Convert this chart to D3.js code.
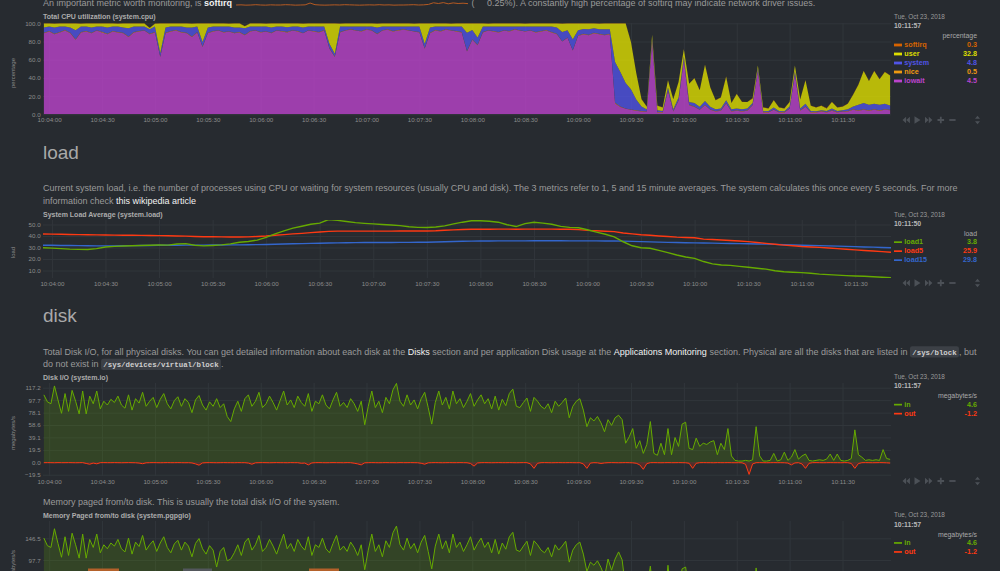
<!DOCTYPE html>
<html>
<head>
<meta charset="utf-8">
<script src="https://cdn.jsdelivr.net/npm/d3@7"></script>
<style>
  html, body { margin: 0; padding: 0; background: #272b30; overflow: hidden; }
  svg { display: block; font-family: "Liberation Sans", Arial, Helvetica, sans-serif; }
  svg text { white-space: pre; }
</style>
</head>
<body>
<svg id="page" width="1000" height="571"></svg>
<script>
// ---- data ----
const timeTicks = ["10:04:00","10:04:30","10:05:00","10:05:30","10:06:00","10:06:30","10:07:00","10:07:30",
  "10:08:00","10:08:30","10:09:00","10:09:30","10:10:00","10:10:30","10:11:00","10:11:30"];

// system.cpu, one sample every 3 s from 10:03:57
const cpuIowait = [89,91,88,90,92,89,82,90,91,89, 92,90,88,91,90,89,85,90,91,92, 88,90,63,89,91,92,90,89,85,90,
  74,89,91,92,90,91,89,90,87,91, 92,90,91,89,92,91,90,92,91,89, 92,91,90,92,72,63,90,92,93,92,
  91,93,92,88,92,93,91,92,93,92, 91,90,72,89,92,91,93,92,91,90, 69,82,76,90,92,91,90,92,91,93,
  92,91,92,90,91,92,90,88,80,84, 70,86,88,87,89,88,87,88,
  12,8,6,5,4,3,3,80,2,2, 26,3,15,60,10,8,5,10,5,3, 4,12,3,4,3,4,10,48,2,2, 5,2,2,6,44,4,8,2,2,3,
  2,4,2,3,3,5,4,5,4,5, 4,5,4.5];
const cpuSystem = [6,5,7,6,4,6,10,6,5,6, 4,6,7,5,6,6,9,6,5,4, 5,6,4,6,5,4,6,6,10,6, 5,6,5,4,6,5,6,5,7,5,
  4,6,5,6,4,5,5,4,5,6, 4,5,6,4,5,3,6,4,3,4, 5,3,4,7,4,3,5,4,3,4, 5,6,5,6,4,5,3,4,5,6,
  20,10,8,6,4,5,6,4,5,3, 4,5,4,6,5,4,6,7,10,8, 12,6,5,6,5,5,6,5,
  45,38,28,22,12,5,2,2,2,1, 3,2,3,3,3,4,3,4,3,2, 2,3,2,2,2,2,2,2,1,1, 2,1,1,2,3,2,3,1,1,1,
  1,2,1,1,2,3,6,7,6,6, 6,6,4.8];
const cpuUser = [4.2,3.2,4.2,3.2,3.2,4.2,7.2,3.2,3.2,4.2, 3.2,3.2,4.2,3.2,3.2,4.2,5.2,3.2,3.2,3.2,
  1.2,3.2,32.2,4.2,3.2,3.2,3.2,4.2,4.2,3.2, 20.2,4.2,3.2,3.2,3.2,3.2,4.2,4.2,2.2,3.2,
  3.2,3.2,3.2,4.2,3.2,3.2,4.2,3.2,3.2,4.2, 3.2,3.2,3.2,3.2,22.2,33.2,3.2,3.2,3.2,3.2,
  3.2,3.2,3.2,4.2,3.2,3.2,3.2,3.2,3.2,3.2, 3.2,3.2,22.2,4.2,3.2,3.2,3.2,3.2,3.2,3.2,
  10.2,7.2,15.2,3.2,3.2,3.2,3.2,3.2,3.2,3.2, 3.2,3.2,3.2,3.2,3.2,3.2,3.2,4.2,9.2,7.2,
  17.2,7.2,6.2,6.2,5.2,6.2,6.2,6.2,
  42.2,53.2,65.2,52,29,8,3,5,5,4, 8,11,17,8,20,27,18,40,21,10, 12,26,7,16,8,7,5,3,4,3,
  8,4,3,5,6,10,26,6,4,5, 3,7,4,4,6,13,22,35,26,36, 28,35,32.8];
const cpuNice = [0.5,0.5,0.4,0.5,0.6,0.5,0.5,0.4,0.5,0.5, 0.5,0.6,0.5,0.5,0.4,0.5,0.5,0.5,0.6,0.5,
  0.5,0.4,0.5,0.5,0.5,0.6,0.5,0.5,0.4,0.5, 0.5,0.5,0.6,0.5,0.5,0.4,0.5,0.5,0.5,0.6,
  0.5,0.5,0.4,0.5,0.5,0.5,0.6,0.5,0.5,0.4, 0.5,0.5,0.5,0.6,0.5,0.5,0.4,0.5,0.5,0.5,
  0.6,0.5,0.5,0.4,0.5,0.5,0.5,0.6,0.5,0.5, 0.4,0.5,0.5,0.5,0.6,0.5,0.5,0.4,0.5,0.5,
  0.5,0.6,0.5,0.5,0.4,0.5,0.5,0.5,0.6,0.5, 0.5,0.4,0.5,0.5,0.5,0.6,0.5,0.5,0.4,0.5,
  0.5,0.5,0.6,0.5,0.5,0.4,0.5,0.5,0.6,0.5, 0.5,0.4,0.4,0.5,0.4,0.5,0.4,0.5,0.4,0.5,
  0.5,0.4,0.5,0.5,0.4,0.5,0.4,0.5,0.5,0.4, 0.5,0.4,0.5,0.4,0.5,0.5,0.4,0.5,0.4,0.5,
  0.4,0.5,0.5,0.4,0.5,0.5,0.4,0.5,0.5,0.5, 0.5,0.4,0.5,0.5,0.5,0.5,0.5,0.5,0.5,0.5, 0.5];
const cpuSoftirq = [0.3,0.3,0.2,0.3,0.4,0.3,0.3,0.2,0.3,0.3, 0.3,0.4,0.3,0.3,0.2,0.3,0.3,0.3,0.4,0.3,
  0.3,0.2,0.3,0.3,0.3,0.4,0.3,0.3,0.2,0.3, 0.3,0.3,0.4,0.3,0.3,0.2,0.3,0.3,0.3,0.4,
  0.3,0.3,0.2,0.3,0.3,0.3,0.4,0.3,0.3,0.2, 0.3,0.3,0.3,0.4,0.3,0.3,0.2,0.3,0.3,0.3,
  0.4,0.3,0.3,0.2,0.3,0.3,0.3,0.4,0.3,0.3, 0.2,0.3,0.3,0.3,0.4,0.3,0.3,0.2,0.3,0.3,
  0.3,0.4,0.3,0.3,0.2,0.3,0.3,0.3,0.4,0.3, 0.3,0.2,0.3,0.3,0.3,0.4,0.3,0.3,0.2,0.3,
  0.3,0.3,0.4,0.3,0.3,0.2,0.3,0.3,0.5,0.4, 0.3,0.3,0.2,0.2,0.3,0.2,0.3,0.2,0.3,0.2,
  0.3,0.3,0.2,0.3,0.3,0.2,0.3,0.2,0.3,0.3, 0.2,0.3,0.2,0.2,0.3,0.2,0.3,0.2,0.2,0.3,
  0.2,0.3,0.2,0.2,0.3,0.2,0.3,0.2,0.3,0.3, 0.2,0.3,0.3,0.2,0.3,0.3,0.3,0.3,0.3,0.3, 0.3];
const cpuNames = ["softirq","user","system","nice","iowait"];
const cpuLegendValues = ["0.3","32.8","4.8","0.5","4.5"];

// system.load, one sample every 5 s from 10:03:55
const load1 = [29.8,29.5,29.0,28.6,28.4,28.3,29.0,30.4,31.0,31.3, 31.5,31.8,32.0,32.2,32.1,33.0,33.4,32.0,31.4,31.8,
  32.3,33.2,34.6,35.2,36.4,38.8,41.8,44.5,46.8,48.5, 50.2,51.2,54.3,53.6,52.6,51.6,51.0,50.5,50.0,49.5,
  49.0,48.0,47.5,47.4,47.8,48.8,50.5,52.0,53.2,53.3, 52.8,52.0,49.8,48.2,50.8,51.9,51.2,50.2,48.4,47.5,
  47.2,45.4,43.4,41.5,39.2,35.0,31.5,29.8,29.3,27.5, 25.5,23.5,21.8,20.6,17.8,15.8,14.8,14.5,13.6,12.8,
  12.0,11.2,9.8,8.9,8.5,8.2,7.6,6.9,6.4,6.0, 5.6,5.3,5.0,4.6,4.2,3.8];
const load5 = [41.7,41.6,41.5,41.3,41.2,41.1,41.0,40.9,40.8,40.7, 40.6,40.5,40.4,40.3,40.2,40.0,39.9,39.6,39.4,39.3,
  39.2,39.1,39.1,39.2,39.6,40.0,40.6,41.2,41.8,42.3, 42.9,43.5,44.0,44.2,44.2,44.2,44.2,44.2,44.2,44.2,
  44.3,44.3,44.3,44.4,44.6,45.0,45.3,45.6,45.8,45.8, 45.9,46.0,46.0,45.9,46.0,46.0,46.0,46.0,45.9,45.8,
  45.5,44.9,44.5,44.1,43.8,42.6,41.8,41.1,40.6,40.0, 39.5,39.0,38.7,38.5,37.3,36.9,36.5,36.1,35.6,35.1,
  34.4,33.6,32.8,32.1,31.5,30.9,30.5,30.1,29.6,29.0, 28.5,27.9,27.4,26.9,26.4,25.9];
const load15 = [32.0,31.9,31.8,31.7,31.6,31.5,31.4,31.4,31.4,31.5, 31.6,31.7,31.8,31.9,32.0,32.0,32.1,32.1,32.1,32.2,
  32.2,32.3,32.3,32.4,32.5,32.6,32.8,33.0,33.2,33.4, 33.6,33.7,33.9,34.0,34.1,34.2,34.3,34.3,34.4,34.4,
  34.5,34.5,34.6,34.6,34.8,35.0,35.2,35.4,35.5,35.6, 35.7,35.8,35.8,35.8,35.8,35.9,35.9,35.9,35.9,35.8,
  35.8,35.8,35.8,35.7,35.7,35.5,35.3,35.1,34.9,34.7, 34.5,34.3,34.1,34.0,33.9,33.8,33.6,33.5,33.4,33.2,
  33.1,32.9,32.7,32.4,32.2,32.0,31.8,31.6,31.4,31.2, 31.0,30.8,30.5,30.3,30.0,29.8];
const loadNames = ["load1","load5","load15"];
const loadLegendValues = ["3.8","25.9","29.8"];

// system.io, one sample every 2 s from 10:03:57
const diskIn = [106,95,92,120,98,77,108,80,113,96, 76,112,76,104,92,112,84,96,90,99, 94,104,90,85,106,82,100,93,110,88,
  96,102,86,99,108,92,84,97,103,88, 100,94,78,98,105,90,82,95,88,100, 86,92,72,64,84,96,80,100,106,88,
  96,110,86,92,104,94,82,97,112,90, 98,86,104,94,88,108,80,96,92,106, 90,84,98,110,88,94,86,100,92,80,
  96,59,88,112,86,96,78,102,92,114, 124,96,88,106,90,98,84,100,110,86, 60,94,112,90,102,84,112,92,100,86,
  96,108,88,98,106,92,100,84,104,82, 99,89,108,115,88,86,94,101,80,102, 96,88,84,92,78,96,88,94,101,70,
  88,96,100,82,56,70,65,72,62,48, 67,58,70,74,67,30,40,53,22,34, 14,28,64,14,11,30,12,53,12,39,
  25,60,63,22,20,38,25,30,28,32, 34,12,30,20,53,10,3,2,2,3, 2,4,56,10,2,2,3,14,2,4,
  16,3,8,20,5,10,13,3,2,3, 4,3,5,13,3,13,3,2,3,6, 51,12,8,3,4,3,4,3,20,6, 4.6];
const diskOut = [-0.6,-0.5,-0.6,-0.7,-0.5,-0.6,-0.6,-0.5,-0.6,-0.7, -0.6,-0.5,-1.8,-3.0,-1.2,-2.4,-0.6,-0.5,-0.6,-0.6,
  -0.5,-0.6,-0.7,-0.6,-0.5,-0.6,-0.7,-1.2,-2.2,-0.8, -0.6,-0.5,-0.6,-0.7,-0.6,-0.5,-0.6,-0.6,-0.5,-0.6,
  -0.7,-0.6,-1.0,-2.5,-4.5,-1.0,-0.6,-0.5,-0.6,-0.7, -0.6,-0.5,-0.6,-0.6,-0.7,-0.5,-0.6,-0.6,-1.2,-3.0,
  -0.8,-0.6,-0.5,-0.6,-0.7,-0.6,-0.5,-0.6,-0.6,-0.7, -0.5,-0.6,-0.6,-1.5,-1.2,-4.0,-1.0,-0.6,-0.5,-0.6,
  -0.7,-0.6,-0.5,-0.6,-0.6,-0.7,-0.5,-0.6,-1.4,-2.5, -4.0,-0.8,-0.6,-0.5,-0.6,-0.7,-0.6,-0.5,-0.6,-0.6,
  -0.7,-0.5,-0.6,-0.6,-0.5,-0.6,-0.7,-1.5,-3.0,-0.8, -0.6,-0.5,-0.6,-0.7,-0.6,-0.5,-0.6,-0.6,-0.5,-0.6,
  -0.7,-1.8,-6.0,-1.0,-0.6,-0.5,-0.6,-0.7,-0.6,-0.5, -0.6,-0.6,-0.5,-0.6,-0.7,-0.6,-0.5,-0.6,-2.5,-9.5,
  -1.5,-0.6,-0.5,-0.6,-0.7,-0.6,-0.5,-0.6,-0.6,-0.5, -0.6,-0.7,-0.6,-2.5,-9.5,-1.2,-0.6,-0.8,-1.8,-1.0,
  -0.6,-0.5,-0.6,-0.7,-0.6,-0.5,-0.6,-0.8,-1.5,-4.0, -11.0,-2.0,-0.6,-0.5,-0.6,-0.7,-0.6,-0.5,-0.6,-0.6,
  -0.5,-0.6,-0.7,-1.5,-9.5,-1.5,-0.6,-0.5,-0.6,-0.6, -0.7,-0.5,-0.6,-0.6,-0.5,-0.6,-0.7,-0.6,-0.8,-3.0,
  -19.0,-2.5,-0.6,-0.5,-0.6,-0.7,-0.6,-0.5,-0.6,-0.6, -0.7,-1.2,-4.0,-1.0,-0.6,-2.5,-9.5,-1.5,-0.6,-0.5,
  -0.6,-0.7,-0.6,-0.5,-0.6,-0.6,-0.7,-0.5,-0.6,-1.8, -9.5,-2.0,-0.6,-0.5,-0.6,-0.7,-0.6,-0.5,-0.6,-0.8, -1.2];
const diskNames = ["in","out"];
const diskLegendValues = ["4.6","-1.2"];

// system.pgpgio "in", one sample every 2 s from 10:03:57 (only the top of this chart is on screen)
const pgpgIn = [147,130,126,168,135,104,150,108,158,132, 102,156,102,144,126,156,114,132,123,136,
  129,144,123,116,147,111,138,128,153,120, 132,141,117,136,150,126,114,134,142,120,
  138,129,105,135,146,123,111,130,120,82, 117,126,96,100,114,132,108,138,147,120,
  132,153,117,126,144,129,111,134,156,123, 135,117,144,129,120,150,108,132,126,147,
  123,114,135,153,120,129,117,138,126,108, 132,76,120,156,117,132,105,141,126,159,
  174,132,120,147,123,135,114,138,153,117, 78,129,156,123,141,114,156,126,138,117,
  132,150,120,135,147,126,138,114,144,111, 136,122,150,160,120,117,129,140,108,141,
  132,120,114,126,105,132,120,129,140,93, 120,132,138,111,72,93,86,96,81,60,
  100,75,100,116,98,33,48,68,21,39, 9,30,84,9,5,33,6,86,6,46, 26,78,82,21,18,45,26,33,30,36,
  39,6,33,18,68,3,2,2,2,3, 2,4,80,3,2,2,3,9,2,4, 12,3,4,18,4,3,8,3,2,3,
  4,3,4,8,3,8,3,2,3,4, 65,6,4,3,4,3,4,3,18,4, 4.6];
const pgpgLegendValues = ["4.6","-1.2"];

// inline softirq sparkline in the text at the top
const softirqSpark = [0.2,0.21,0.19,0.2,0.22,0.2,0.19,0.21,0.2,0.2,0.22,0.21,0.19,0.2,0.21,0.33,0.22,0.2,0.19,0.2,
  0.21,0.2,0.22,0.21,0.2,0.19,0.2,0.21,0.2,0.22,0.2,0.21,0.19,0.2,0.2,0.21,0.22,0.2,0.21,0.24,
  0.35,0.3,0.36,0.28,0.34,0.3,0.32,0.29];

// ---- page ----
const svg = d3.select("#page");
svg.append("rect").attr("width", 1000).attr("height", 571).attr("fill", "#272b30");
const defs = svg.append("defs");

const parseT = d3.timeParse("%H:%M:%S");
const fmtT = d3.timeFormat("%H:%M:%S");
const from = (s, ms) => new Date(+parseT(s) + (ms || 0));
const left = 43, right = 891;

const xMain = d3.scaleTime([from("10:03:56", 500), from("10:11:57", 500)], [left, right]);
const xLoad = d3.scaleTime([from("10:03:55"), from("10:11:50")], [left, right]);

const cpuTimes = cpuUser.map((_, i) => from("10:03:57", i * 3000));
const diskTimes = diskIn.map((_, i) => from("10:03:57", i * 2000));
const loadTimes = load1.map((_, i) => from("10:03:55", i * 5000));

const FONT = "Liberation Sans, Arial, Helvetica, sans-serif";
const BODY = 9.0;
const colors = {
  softirq: "#D66300", user: "#DDDD00", system: "#5054e6", nice: "#EE9911", iowait: "#BB44CC",
  load1: "#66AA00", load5: "#FE3912", load15: "#3366CC", in: "#66AA00", out: "#FE3912"
};

function txt(x, y, s, o = {}) {
  return svg.append("text").attr("x", x).attr("y", y)
    .attr("font-family", o.family || FONT).attr("font-size", o.size || BODY)
    .attr("font-weight", o.bold ? "bold" : null).attr("fill", o.fill || "#9a9a9a")
    .attr("text-anchor", o.anchor || null).text(s);
}

// run of text pieces laid out one after another
function flow(x, y, segs) {
  let cx = x;
  segs.forEach(s => {
    if (s.code) {
      const t = txt(cx + 2.3, y, s.t, { family: "Liberation Mono, DejaVu Sans Mono, monospace", size: 7.4, bold: true, fill: "#cfcfcf" });
      const w = t.node().getComputedTextLength();
      svg.insert("rect", () => t.node()).attr("x", cx).attr("y", y - 8.5).attr("width", w + 4.6)
        .attr("height", 11.2).attr("rx", 2.2).attr("fill", "#3c4046");
      cx += w + 4.6;
    } else {
      const t = txt(cx, y, s.t, { bold: s.b, fill: s.w ? "#f2f2f2" : "#9a9a9a" });
      cx += t.node().getComputedTextLength();
    }
  });
  return cx;
}

function frame(c) {
  const id = "clip" + c.name;
  defs.append("clipPath").attr("id", id).append("rect")
    .attr("x", left).attr("y", c.top).attr("width", right - left).attr("height", c.bottom - c.top);

  const gx = svg.append("g").attr("transform", `translate(0,${c.bottom})`)
    .call(d3.axisBottom(c.x).tickValues(timeTicks.map(parseT)).tickFormat(fmtT)
      .tickSizeInner(-(c.bottom - c.top)).tickSizeOuter(0).tickPadding(3.6));
  const gy = svg.append("g").attr("transform", `translate(${left},0)`)
    .call(d3.axisLeft(c.y).tickValues(c.yTicks).tickFormat(d3.format(".1f"))
      .tickSizeInner(-(right - left)).tickSizeOuter(0).tickPadding(2.4));
  [gx, gy].forEach(g => {
    g.attr("font-size", 6.2).attr("font-family", FONT);
    g.select(".domain").remove();
    g.selectAll("line").attr("stroke", "#31363b");
    g.selectAll("text").attr("fill", "#8c8c8c");
  });

  txt(left, c.titleY, c.title, { size: 7, bold: true, fill: "#acacac" });
  svg.append("text").attr("transform", `translate(14.5,${c.unitY}) rotate(-90)`)
    .attr("text-anchor", "middle").attr("font-family", FONT).attr("font-size", 6)
    .attr("fill", "#8a8a8a").text(c.unitLabel);

  return svg.append("g").attr("clip-path", `url(#${id})`);
}

function legend(l) {
  const x = 894, vx = 977;
  txt(x, l.y0, "Tue, Oct 23, 2018", { size: 6.4, fill: "#9a9a9a" });
  txt(x, l.y0 + 9.3, l.time, { size: 6.9, bold: true, fill: "#b8b8b8" });
  txt(vx, l.y0 + 19.3, l.unit, { size: 6.9, fill: "#a8a8a8", anchor: "end" });
  l.names.forEach((n, i) => {
    const y = l.y0 + 27.8 + i * 9;
    svg.append("rect").attr("x", x).attr("y", y - (l.bar ? 3.2 : 3)).attr("width", 8)
      .attr("height", l.bar ? 2.8 : 1.7).attr("fill", colors[n]);
    txt(x + 10.3, y, n, { size: 7.2, bold: true, fill: colors[n] });
    txt(vx, y, l.values[i], { size: 7.2, bold: true, fill: colors[n], anchor: "end" });
  });
}

function nav(cy) {
  const g = svg.append("g").attr("fill", "#4c5157");
  g.append("path").attr("d", `M902.5,${cy}l3.6,-3.3v6.6z M906.3,${cy}l3.6,-3.3v6.6z`);
  g.append("path").attr("d", `M914.5,${cy - 3.8}l6,3.8l-6,3.8z`);
  g.append("path").attr("d", `M925,${cy - 3.3}l3.6,3.3l-3.6,3.3z M928.8,${cy - 3.3}l3.6,3.3l-3.6,3.3z`);
  g.append("path").attr("d", `M937.5,${cy - 0.9}h6.6v1.8h-6.6z M939.9,${cy - 3.3}h1.8v6.6h-1.8z`);
  g.append("path").attr("d", `M949.3,${cy - 0.9}h6.3v1.8h-6.3z`);
  g.append("path").attr("d", `M975,${cy - 1.3}l2.5,-3l2.5,3z M975,${cy + 1.3}l2.5,3l2.5,-3z`);
}

// ---- top text line (cut off by the window) ----
let cx = flow(left, 5.5, [{ t: "An important metric worth monitoring, is " }, { t: "softirq", b: true, w: true }]);
const sx = d3.scaleLinear([0, softirqSpark.length - 1], [cx + 4, 468]);
const sy = d3.scaleLinear([0, 0.6], [8, -1]);
svg.append("path").datum(softirqSpark).attr("fill", "none").attr("stroke", "#b55a22").attr("stroke-width", 1)
  .attr("d", d3.line().x((d, i) => sx(i)).y(d => sy(d)));
txt(471.5, 5.5, "(");
txt(487, 5.5, "0.25%). A constantly high percentage of softirq may indicate network driver issues.");

// ---- CPU ----
const yCpu = d3.scaleLinear([0, 100], [114.3, 23.3]);
const cpuPlot = frame({ name: "cpu", x: xMain, y: yCpu, top: 23, bottom: 114.3, yTicks: [0, 20, 40, 60, 80, 100],
  title: "Total CPU utilization (system.cpu)", titleY: 18.5, unitLabel: "percentage", unitY: 73 });
const cpuRows = cpuTimes.map((t, i) => ({ time: t, iowait: cpuIowait[i], nice: cpuNice[i],
  system: cpuSystem[i], user: cpuUser[i], softirq: cpuSoftirq[i] }));
const cpuStack = d3.stack().keys(["iowait", "nice", "system", "user", "softirq"])(cpuRows);
const cpuArea = d3.area().x(d => xMain(d.data.time))
  .y0(d => yCpu(Math.min(100, d[0]))).y1(d => yCpu(Math.min(100, d[1])));
cpuPlot.selectAll("path").data(cpuStack).join("path")
  .attr("fill", d => colors[d.key]).attr("fill-opacity", 0.8).attr("d", cpuArea);
legend({ y0: 19, time: "10:11:57", unit: "percentage", names: cpuNames, values: cpuLegendValues, bar: true });
nav(120);

// ---- load ----
txt(left, 159, "load", { size: 19, fill: "#a9a9a9" });
flow(left, 191.3, [{ t: "Current system load, i.e. the number of processes using CPU or waiting for system resources (usually CPU and disk). The 3 metrics refer to 1, 5 and 15 minute averages. The system calculates this once every 5 seconds. For more" }]);
flow(left, 204, [{ t: "information check " }, { t: "this wikipedia article", w: true }]);
const yLoad = d3.scaleLinear([3.5, 53.9], [278, 220]);
const loadPlot = frame({ name: "load", x: xLoad, y: yLoad, top: 220, bottom: 278, yTicks: [10, 20, 30, 40, 50],
  title: "System Load Average (system.load)", titleY: 216.8, unitLabel: "load", unitY: 252.5 });
[["load15", load15], ["load5", load5], ["load1", load1]].forEach(([k, vals]) => {
  loadPlot.append("path").datum(vals).attr("fill", "none").attr("stroke", colors[k]).attr("stroke-width", 1.4)
    .attr("d", d3.line().x((d, i) => xLoad(loadTimes[i])).y(d => yLoad(d)));
});
legend({ y0: 216.5, time: "10:11:50", unit: "load", names: loadNames, values: loadLegendValues });
nav(283);

// ---- disk ----
txt(left, 321.7, "disk", { size: 19, fill: "#a9a9a9" });
flow(left, 354.7, [{ t: "Total Disk I/O, for all physical disks. You can get detailed information about each disk at the " },
  { t: "Disks", w: true }, { t: " section and per application Disk usage at the " },
  { t: "Applications Monitoring", w: true }, { t: " section. Physical are all the disks that are listed in " },
  { t: "/sys/block", code: true }, { t: ", but" }]);
flow(left, 367.3, [{ t: "do not exist in " }, { t: "/sys/devices/virtual/block", code: true }, { t: "." }]);

function ioChart(c, inVals, outVals) {
  const plot = frame(c);
  const series = [["in", inVals]];
  if (outVals) series.push(["out", outVals]);
  series.forEach(([k, vals]) => {
    plot.append("path").datum(vals).attr("fill", colors[k]).attr("fill-opacity", 0.2)
      .attr("d", d3.area().x((d, i) => c.x(diskTimes[i])).y0(c.y(0)).y1(d => c.y(d)));
    plot.append("path").datum(vals).attr("fill", "none").attr("stroke", colors[k]).attr("stroke-width", 1)
      .attr("d", d3.line().x((d, i) => c.x(diskTimes[i])).y(d => c.y(d)));
  });
}
const yDisk = d3.scaleLinear([-21.5, 124.6], [476, 383]);
ioChart({ name: "disk", x: xMain, y: yDisk, top: 383, bottom: 476,
  yTicks: [-19.5, 0, 19.5, 39.1, 58.6, 78.1, 97.7, 117.2],
  title: "Disk I/O (system.io)", titleY: 379.5, unitLabel: "megabytes/s", unitY: 433 }, diskIn, diskOut);
legend({ y0: 379, time: "10:11:57", unit: "megabytes/s", names: diskNames, values: diskLegendValues });
nav(481);

// ---- memory paged ----
txt(left, 505.3, "Memory paged from/to disk. This is usually the total disk I/O of the system.");
const yPg = d3.scaleLinear([-23.5, 185.4], [614, 521]);
ioChart({ name: "pg", x: xMain, y: yPg, top: 521, bottom: 614, yTicks: [0, 48.8, 97.7, 146.5],
  title: "Memory Paged from/to disk (system.pgpgio)", titleY: 517.8, unitLabel: "megabytes/s", unitY: 567 }, pgpgIn, null);
legend({ y0: 517.3, time: "10:11:57", unit: "megabytes/s", names: diskNames, values: pgpgLegendValues });

// strips peeking in at the bottom edge
svg.append("rect").attr("x", 88).attr("y", 568.5).attr("width", 31).attr("height", 3).attr("fill", "#b4612a");
svg.append("rect").attr("x", 183).attr("y", 568.5).attr("width", 29).attr("height", 3).attr("fill", "#53575c");
svg.append("rect").attr("x", 309).attr("y", 568.5).attr("width", 30).attr("height", 3).attr("fill", "#b4612a");
</script>
</body>
</html>
